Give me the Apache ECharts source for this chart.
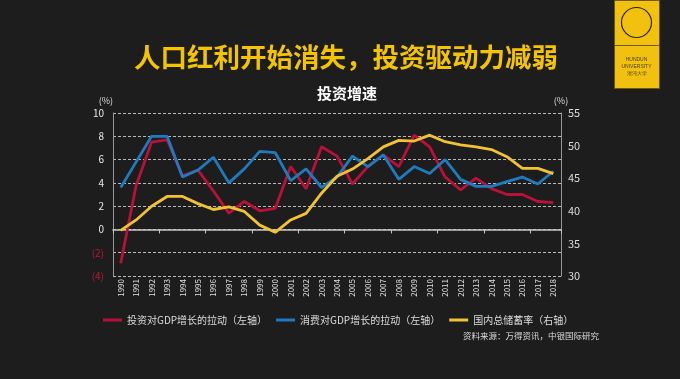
<!DOCTYPE html>
<html><head><meta charset="utf-8">
<script src="https://cdn.jsdelivr.net/npm/echarts@6/dist/echarts.min.js"></script>
<style>html,body{margin:0;padding:0;background:#1c1c1c}#c{width:680px;height:379px}</style>
</head><body><div id="c"></div>
<script>
const years = ['1990','1991','1992','1993','1994','1995','1996','1997','1998','1999','2000','2001','2002','2003','2004','2005','2006','2007','2008','2009','2010','2011','2012','2013','2014','2015','2016','2017','2018'];
const investPull = [-2.9,3.8,7.5,7.7,4.6,5.1,3.3,1.4,2.4,1.6,1.8,5.4,3.5,7.1,6.3,3.9,5.4,6.4,5.4,8.1,7.1,4.5,3.4,4.4,3.5,3.0,3.0,2.4,2.3];
const consumePull = [3.6,5.8,8.0,8.0,4.5,5.1,6.2,4.0,5.2,6.7,6.6,4.2,5.2,3.6,4.5,6.3,5.4,6.4,4.3,5.4,4.8,6.0,4.3,3.7,3.7,4.1,4.5,3.9,5.0];
const savingRate = [37.0,38.6,40.7,42.2,42.2,41.1,40.2,40.6,39.9,37.8,36.7,38.6,39.6,42.7,45.3,46.4,48.0,49.8,50.8,50.7,51.6,50.6,50.1,49.8,49.4,48.3,46.5,46.5,45.7];
const seriesNames = ['投资对GDP增长的拉动（左轴）','消费对GDP增长的拉动（左轴）','国内总储蓄率（右轴）'];
const leftTicks = {min:-4, max:10, interval:2};
const rightTicks = {min:30, max:55, interval:5};

const FF = '"Noto Sans CJK SC", "Noto Sans", sans-serif';
const RED = '#b8113a', BLUE = '#1f7bbf', YEL = '#f2c230';
const chart = echarts.init(document.getElementById('c'), null, {renderer:'canvas'});
chart.setOption({
  backgroundColor: '#1d1d1d',
  textStyle: {fontFamily: FF},
  animation: false,
  title: [
    {text:'人口红利开始消失，投资驱动力减弱', left:341, top:39, textAlign:'center',
     textStyle:{color:'#f5c400', fontSize:26.5, fontWeight:'bold', fontFamily:FF}},
    {text:'投资增速', left:342, top:81, textAlign:'center',
     textStyle:{color:'#ffffff', fontSize:15, fontWeight:'bold', fontFamily:FF}}
  ],
  grid: {left:113, right:119, top:113, bottom:103},
  legend: {
    left:98, top:310, itemWidth:19, itemHeight:3, itemGap:9, icon:'rect',
    textStyle:{color:'#dddddd', fontSize:10, fontFamily:FF},
    data: seriesNames
  },
  xAxis: [
    {type:'category', data:years, position:'bottom',
     axisLine:{show:false, onZero:false}, axisTick:{show:false},
     axisLabel:{rotate:90, interval:0, fontSize:8, color:'#e0e0e0', margin:3, fontFamily:FF}},
    {type:'category', data:years, position:'bottom',
     axisLine:{show:true, onZero:true, onZeroAxisIndex:0, lineStyle:{color:'#c8c8c8', width:1.5}},
     axisTick:{show:true, length:4, lineStyle:{color:'#c8c8c8'}},
     axisLabel:{show:false}, splitLine:{show:false}}
  ],
  yAxis: [
    {type:'value', min:leftTicks.min, max:leftTicks.max, interval:leftTicks.interval,
     name:'(%)', nameLocation:'end', nameGap:8,
     nameTextStyle:{color:'#dddddd', fontSize:9, align:'right'},
     axisLine:{show:true, lineStyle:{color:'#999999'}}, axisTick:{show:false},
     splitLine:{show:true, lineStyle:{color:'#bbbbbb', type:[3,2], width:1}},
     axisLabel:{color:'#e8e8e8', fontSize:10, margin:9,
       formatter: v => v < 0 ? '{n|(' + (-v) + ')}' : String(v),
       rich:{n:{color:'#c0143c', fontSize:10}}}},
    {type:'value', min:rightTicks.min, max:rightTicks.max, interval:rightTicks.interval, position:'right',
     name:'(%)', nameLocation:'end', nameGap:8,
     nameTextStyle:{color:'#dddddd', fontSize:9},
     axisLine:{show:true, lineStyle:{color:'#999999'}}, axisTick:{show:false},
     splitLine:{show:false},
     axisLabel:{color:'#dddddd', fontSize:11, margin:7}}
  ],
  series: [
    {name:seriesNames[0], type:'line', data:investPull, yAxisIndex:0, xAxisIndex:0, symbol:'none',
     itemStyle:{color:RED}, lineStyle:{color:RED, width:2.8}},
    {name:seriesNames[1], type:'line', data:consumePull, yAxisIndex:0, xAxisIndex:0, symbol:'none',
     itemStyle:{color:BLUE}, lineStyle:{color:BLUE, width:2.8}},
    {name:seriesNames[2], type:'line', data:savingRate, yAxisIndex:1, xAxisIndex:0, symbol:'none',
     itemStyle:{color:YEL}, lineStyle:{color:YEL, width:2.8}}
  ],
  graphic: [
    {type:'text', left:463, top:332, style:{text:'资料来源：万得资讯，中银国际研究', fill:'#dddddd', fontSize:8.5, fontFamily:FF}},
    {type:'group', left:612, top:0, children:[
      {type:'rect', shape:{x:0, y:0, width:45, height:88}, style:{fill:'#f2c10f', stroke:'#6a5a12', lineWidth:1}},
      {type:'line', shape:{x1:0, y1:45, x2:45, y2:45}, style:{stroke:'#6a5a12', lineWidth:1}},
      {type:'circle', shape:{cx:22, cy:22, r:15}, style:{fill:'none', stroke:'#2b2400', lineWidth:1.2}},
      {type:'text', x:22, y:59, style:{text:'HUNDUN', fill:'#4a3f00', fontSize:5, align:'center', verticalAlign:'middle'}},
      {type:'text', x:22, y:66, style:{text:'UNIVERSITY', fill:'#4a3f00', fontSize:5, align:'center', verticalAlign:'middle'}},
      {type:'text', x:22, y:73, style:{text:'混沌大学', fill:'#4a3f00', fontSize:5, align:'center', verticalAlign:'middle'}}
    ]}
  ]
});
</script>
</body></html>
